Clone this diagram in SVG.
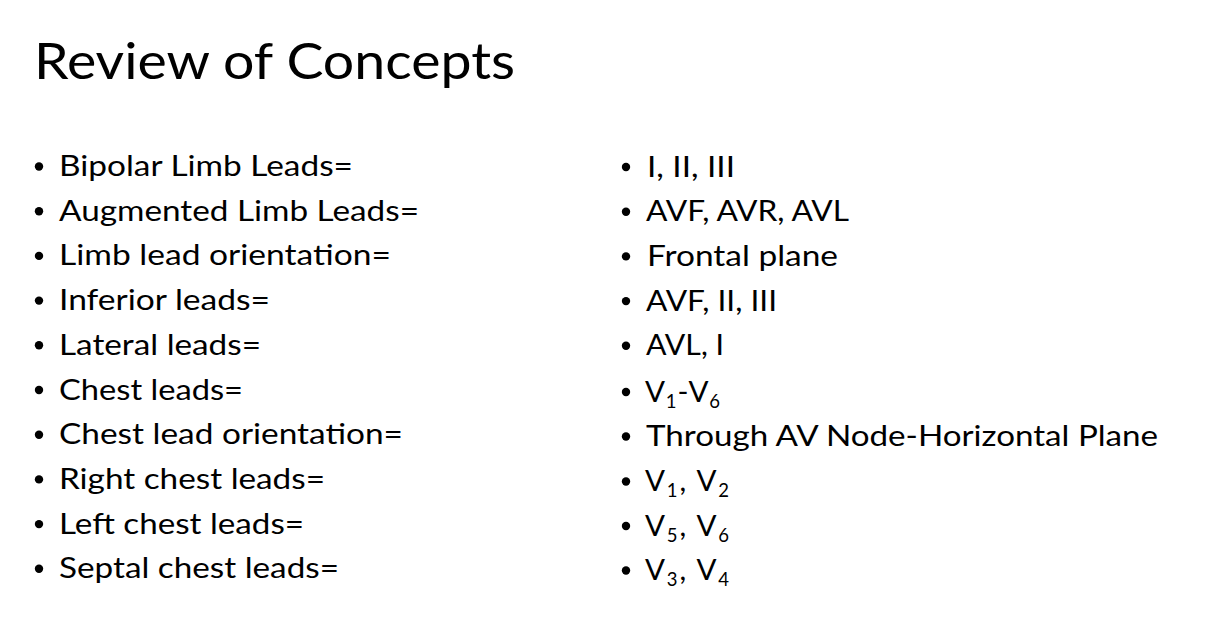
<svg xmlns="http://www.w3.org/2000/svg" width="1212" height="636" viewBox="0 0 1212 636">
<style>
text{font-family:Lato,"Carlito","Open Sans","Liberation Sans",sans-serif;fill:#000}
.t{font-size:51px}
.b{font-size:29.5px}
.s{font-size:18.5px}
circle{fill:#000}
</style>
<rect width="1212" height="636" fill="#fff"/>
<g id="title"><text class="t" x="34" y="79" textLength="481" lengthAdjust="spacingAndGlyphs">Review of Concepts</text></g>
<g id="left">
<g id="l1"><circle cx="39" cy="166.5" r="4.2"/><text class="b" x="59" y="176" textLength="294" lengthAdjust="spacingAndGlyphs">Bipolar Limb Leads=</text></g>
<g id="l2"><circle cx="39" cy="211.2" r="4.2"/><text class="b" x="59" y="220.7" textLength="360" lengthAdjust="spacingAndGlyphs">Augmented Limb Leads=</text></g>
<g id="l3"><circle cx="39" cy="255.9" r="4.2"/><text class="b" x="59" y="265.4" textLength="332" lengthAdjust="spacingAndGlyphs">Limb lead orientation=</text></g>
<g id="l4"><circle cx="39" cy="300.6" r="4.2"/><text class="b" x="59" y="310.1" textLength="211" lengthAdjust="spacingAndGlyphs">Inferior leads=</text></g>
<g id="l5"><circle cx="39" cy="345.3" r="4.2"/><text class="b" x="59" y="354.8" textLength="202" lengthAdjust="spacingAndGlyphs">Lateral leads=</text></g>
<g id="l6"><circle cx="39" cy="390" r="4.2"/><text class="b" x="59" y="399.5" textLength="184" lengthAdjust="spacingAndGlyphs">Chest leads=</text></g>
<g id="l7"><circle cx="39" cy="434.7" r="4.2"/><text class="b" x="59" y="444.2" textLength="344" lengthAdjust="spacingAndGlyphs">Chest lead orientation=</text></g>
<g id="l8"><circle cx="39" cy="479.4" r="4.2"/><text class="b" x="59" y="488.9" textLength="266" lengthAdjust="spacingAndGlyphs">Right chest leads=</text></g>
<g id="l9"><circle cx="39" cy="524.1" r="4.2"/><text class="b" x="59" y="533.6" textLength="245" lengthAdjust="spacingAndGlyphs">Left chest leads=</text></g>
<g id="l10"><circle cx="39" cy="568.8" r="4.2"/><text class="b" x="59" y="578.3" textLength="280" lengthAdjust="spacingAndGlyphs">Septal chest leads=</text></g>
</g>
<g id="right">
<g id="r1"><circle cx="626" cy="167" r="4.2"/><text class="b" x="647" y="176.5" textLength="88" lengthAdjust="spacingAndGlyphs">I, II, III</text></g>
<g id="r2"><circle cx="626" cy="211.7" r="4.2"/><text class="b" x="646" y="221.2" textLength="203" lengthAdjust="spacingAndGlyphs">AVF, AVR, AVL</text></g>
<g id="r3"><circle cx="626" cy="256.4" r="4.2"/><text class="b" x="647" y="265.9" textLength="191" lengthAdjust="spacingAndGlyphs">Frontal plane</text></g>
<g id="r4"><circle cx="626" cy="301.1" r="4.2"/><text class="b" x="646" y="310.6" textLength="131" lengthAdjust="spacingAndGlyphs">AVF, II, III</text></g>
<g id="r5"><circle cx="626" cy="345.8" r="4.2"/><text class="b" x="646" y="355.3" textLength="78" lengthAdjust="spacingAndGlyphs">AVL, I</text></g>
<g id="r6"><circle cx="626" cy="392" r="4.2"/><text class="b" x="645" y="401.5" textLength="75" lengthAdjust="spacing">V<tspan class="s" dy="6">1</tspan><tspan dy="-6">-V</tspan><tspan class="s" dy="6">6</tspan></text></g>
<g id="r7"><circle cx="626" cy="436.5" r="4.2"/><text class="b" x="646" y="446" textLength="512" lengthAdjust="spacingAndGlyphs">Through AV Node-Horizontal Plane</text></g>
<g id="r8"><circle cx="626" cy="481.5" r="4.2"/><text class="b" x="645" y="491" textLength="84" lengthAdjust="spacing">V<tspan class="s" dy="6">1</tspan><tspan dy="-6">, V</tspan><tspan class="s" dy="6">2</tspan></text></g>
<g id="r9"><circle cx="626" cy="526" r="4.2"/><text class="b" x="645" y="535.5" textLength="84" lengthAdjust="spacing">V<tspan class="s" dy="6">5</tspan><tspan dy="-6">, V</tspan><tspan class="s" dy="6">6</tspan></text></g>
<g id="r10"><circle cx="626" cy="570.5" r="4.2"/><text class="b" x="645" y="580" textLength="84" lengthAdjust="spacing">V<tspan class="s" dy="6">3</tspan><tspan dy="-6">, V</tspan><tspan class="s" dy="6">4</tspan></text></g>
</g>
</svg>
